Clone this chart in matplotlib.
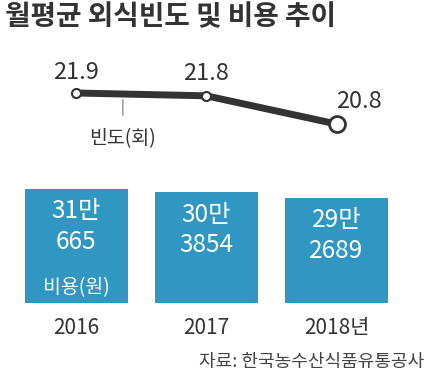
import numpy as np
import matplotlib.pyplot as plt

plt.rcParams['font.family'] = ['Noto Sans CJK KR', 'DejaVu Sans']

# 데이터
years = ['2016', '2017', '2018년']
freq = [21.9, 21.8, 20.8]            # 월평균 외식빈도(회)
cost = [310665, 303854, 292689]      # 월평균 외식비용(원)
cost_top = ['31만', '30만', '29만']
cost_bottom = ['665', '3854', '2689']

title = '월평균 외식빈도 및 비용 추이'
source = '자료: 한국농수산식품유통공사'

TXT = '#333333'
BAR = '#3097c2'
W, H = 430, 378

fig = plt.figure(figsize=(W / 100, H / 100), dpi=100)
x = np.arange(len(years))

# x 스케일: 0 -> 76px, 1px 당 1/130.25
xl = (-76 / 130.25, (W - 76) / 130.25)

# 막대 (비용)
ax_b = fig.add_axes([0, 1 - 303 / H, 1, 123 / H])
ax_b.set_xlim(*xl)
ax_b.set_ylim(82665, 82665 + 123 * 2000)
bars = ax_b.bar(x, cost, width=103 / 130.25, color=BAR)
for i, b in enumerate(bars):
    top = b.get_height()
    ax_b.annotate(cost_top[i], (x[i], top), xytext=(0, -16), textcoords='offset points',
                  ha='center', va='center', color='white', fontsize=17.5)
    ax_b.annotate(cost_bottom[i], (x[i], top), xytext=(0, -38), textcoords='offset points',
                  ha='center', va='center', color='white', fontsize=17.5)
ax_b.annotate('비용(원)', (x[0], 82665), xytext=(0, 11), textcoords='offset points',
              ha='center', va='center', color='white', fontsize=14)
for i, yr in enumerate(years):
    ax_b.annotate(yr, (x[i], 82665), xytext=(0, -18), textcoords='offset points',
                  ha='center', va='center', color=TXT, fontsize=15, annotation_clip=False)
ax_b.axis('off')

# 꺾은선 (빈도)
ax_l = fig.add_axes([0, 0, 1, 1])
ax_l.set_xlim(*xl)
ax_l.set_ylim(21.9 - 285 / 28.2, 21.9 + 93 / 28.2)
ax_l.plot(x, freq, color=TXT, lw=5, solid_capstyle='butt', zorder=2)
ax_l.plot(x[:2], freq[:2], 'o', ms=6.5, mfc='white', mec=TXT, mew=1.5, zorder=3)
ax_l.plot(x[2:], freq[2:], 'o', ms=11.5, mfc='white', mec=TXT, mew=2, zorder=3)
offs = [(0, 15), (0, 16), (16, 16)]
for i, v in enumerate(freq):
    ax_l.annotate(f'{v:.1f}', (x[i], v), xytext=offs[i], textcoords='offset points',
                  ha='center', va='center', color=TXT, fontsize=17)
# 범례 표시 (빈도)
lx = 0.36
ly = np.interp(lx, x, freq)
ax_l.annotate('빈도(회)', (lx, ly), xytext=(0, -32), textcoords='offset points',
              ha='center', va='center', color=TXT, fontsize=14,
              arrowprops=dict(arrowstyle='-', color='#777777', lw=0.8,
                              shrinkA=7, shrinkB=4))
ax_l.axis('off')

fig.text(5 / W, 1 - 17 / H, title, ha='left', va='center', color=TXT,
         fontsize=20, fontweight='bold')
fig.text(424 / W, 1 - 362 / H, source, ha='right', va='center', color='#444444',
         fontsize=13)

fig.savefig('out.png', dpi=100)
